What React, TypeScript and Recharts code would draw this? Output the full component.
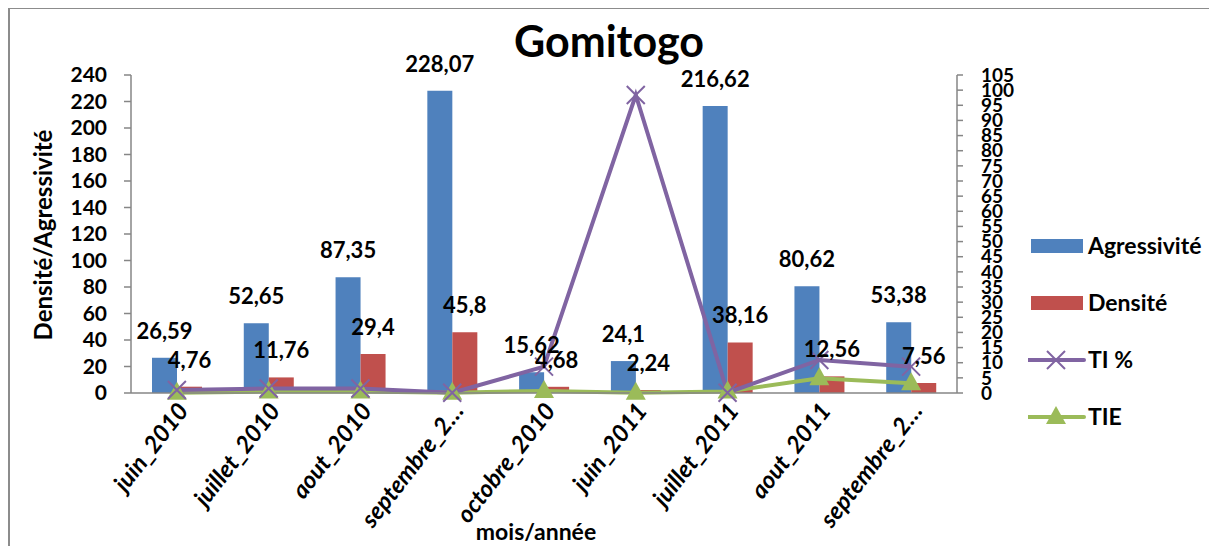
import React from 'react';
import { ComposedChart, Bar, Line, XAxis, YAxis, Legend, LabelList, Label } from 'recharts';

const categories = ['juin_2010', 'juillet_2010', 'aout_2010', 'septembre_2010', 'octobre_2010', 'juin_2011', 'juillet_2011', 'aout_2011', 'septembre_2011'];
const tickLabels = ['juin_2010', 'juillet_2010', 'aout_2010', 'septembre_2…', 'octobre_2010', 'juin_2011', 'juillet_2011', 'aout_2011', 'septembre_2…'];
const agressivite = [26.59, 52.65, 87.35, 228.07, 15.62, 24.1, 216.62, 80.62, 53.38];
const densite = [4.76, 11.76, 29.4, 45.8, 4.68, 2.24, 38.16, 12.56, 7.56];
const tiPercent = [1.0, 1.5, 1.5, 0.1, 8.7, 98.4, 0.1, 10.9, 8.7];
const tie = [0.1, 0.5, 0.5, 0.1, 0.7, 0.1, 0.5, 4.9, 3.2];
const leftTicks = [0, 20, 40, 60, 80, 100, 120, 140, 160, 180, 200, 220, 240];
const rightTicks = [0, 5, 10, 15, 20, 25, 30, 35, 40, 45, 50, 55, 60, 65, 70, 75, 80, 85, 90, 95, 100, 105];
const seriesNames = ['Agressivité', 'Densité', 'TI %', 'TIE'];
const title = 'Gomitogo';
const yTitle = 'Densité/Agressivité';
const xTitle = 'mois/année';

const data = categories.map((c, i) => ({
  cat: c,
  agr: agressivite[i],
  den: densite[i],
  ti: tiPercent[i],
  tie: tie[i],
}));

const FONT = 'Lato, "Open Sans", sans-serif';
const BLUE = '#4F81BD';
const RED = '#C0504D';
const PURPLE = '#8064A2';
const GREEN = '#9BBB59';
const AXIS = '#868686';

const fmt = (v: any) => String(v).replace('.', ',');

const XTick = (props: any) => {
  const { x, y, index } = props;
  return (
    <g transform={`translate(${x + 6},${y + 11})`}>
      <text transform="rotate(-52)" textAnchor="end" dy="0.35em" fontFamily={FONT} fontWeight={700} fontStyle="italic" fontSize={24} fill="#000">
        {tickLabels[index]}
      </text>
    </g>
  );
};

const XDot = (p: any) => {
  const { cx, cy, index } = p;
  if (cx == null || cy == null) return null;
  const s = 9;
  return (
    <path key={`xd-${index}`} d={`M${cx - s},${cy - s}L${cx + s},${cy + s}M${cx - s},${cy + s}L${cx + s},${cy - s}`} stroke={PURPLE} strokeWidth={2} fill="none" />
  );
};

const TriDot = (p: any) => {
  const { cx, cy, index } = p;
  if (cx == null || cy == null) return null;
  return <path key={`td-${index}`} d={`M${cx},${cy - 11}L${cx + 10},${cy + 7}L${cx - 10},${cy + 7}Z`} fill={GREEN} />;
};

const LegendContent = (props: any) => {
  const payload = [...(props.payload || [])].sort(
    (a: any, b: any) => seriesNames.indexOf(a.value) - seriesNames.indexOf(b.value)
  );
  return (
    <svg width={190} height={230}>
      {payload.map((e: any, i: number) => {
        const cy = 21 + i * 57;
        const name = e.value;
        let icon: any = null;
        if (name === 'Agressivité' || name === 'Densité') {
          icon = <rect x={3} y={cy - 7} width={52} height={14} fill={name === 'Agressivité' ? BLUE : RED} />;
        } else if (name === 'TI %') {
          icon = (
            <g>
              <line x1={0} y1={cy} x2={56} y2={cy} stroke={PURPLE} strokeWidth={4} strokeLinecap="round" />
              <XDot cx={28} cy={cy} index={99} />
            </g>
          );
        } else {
          icon = (
            <g>
              <line x1={0} y1={cy} x2={56} y2={cy} stroke={GREEN} strokeWidth={4} strokeLinecap="round" />
              <TriDot cx={28} cy={cy} index={98} />
            </g>
          );
        }
        return (
          <g key={name}>
            {icon}
            <text x={60} y={cy} dy="0.35em" fontFamily={FONT} fontWeight={700} fontSize={23} fill="#000">
              {name}
            </text>
          </g>
        );
      })}
    </svg>
  );
};

export default function App() {
  return (
    <div style={{ position: 'relative', width: 1201, height: 538, fontFamily: FONT }}>
      <div
        style={{
          position: 'absolute',
          left: 0,
          top: -1,
          width: 1209,
          height: 547,
          boxSizing: 'border-box',
          borderLeft: `2px solid #8c8c8c`,
          borderTop: `2px solid #8c8c8c`,
          pointerEvents: 'none',
        }}
      />
      <svg style={{ position: 'absolute', left: 0, top: 0 }} width={1201} height={80}>
        <text x={601} y={49} textAnchor="middle" fontFamily={FONT} fontWeight={700} fontSize={43} fill="#000">
          {title}
        </text>
      </svg>
      <ComposedChart
        width={1201}
        height={538}
        data={data}
        margin={{ top: 67, right: 192, bottom: 0, left: 43 }}
        barGap={0}
        style={{ position: 'absolute', left: 0, top: 0 }}
      >
        <XAxis
          dataKey="cat"
          xAxisId="x"
          height={153}
          interval={0}
          tick={<XTick />}
          tickLine={false}
          tickSize={0}
          axisLine={{ stroke: AXIS, strokeWidth: 1.5 }}
        >
          <Label
            content={(p: any) => {
              const vb = p.viewBox || {};
              return (
                <text x={vb.x + vb.width / 2 - 8} y={vb.y + 147} textAnchor="middle" fontFamily={FONT} fontWeight={700} fontSize={23} fill="#000">
                  {xTitle}
                </text>
              );
            }}
          />
        </XAxis>
        <YAxis
          yAxisId="left"
          width={80}
          domain={[0, 240]}
          ticks={leftTicks}
          interval={0}
          tickSize={7}
          tickMargin={17}
          axisLine={{ stroke: AXIS, strokeWidth: 1.5 }}
          tickLine={{ stroke: AXIS, strokeWidth: 1.5 }}
          tick={{ fill: '#000', fontSize: 21, fontWeight: 700, fontFamily: FONT }}
        >
          <Label
            content={(p: any) => {
              const vb = p.viewBox || {};
              const x = vb.x + 1;
              const y = vb.y + vb.height / 2 + 1;
              return (
                <text x={x} y={y} transform={`rotate(-90, ${x}, ${y})`} textAnchor="middle" fontFamily={FONT} fontWeight={700} fontSize={24} fill="#000">
                  {yTitle}
                </text>
              );
            }}
          />
        </YAxis>
        <YAxis
          yAxisId="right"
          orientation="right"
          width={60}
          domain={[0, 105]}
          ticks={rightTicks}
          interval={0}
          tickSize={6}
          tickMargin={18}
          axisLine={{ stroke: AXIS, strokeWidth: 1.5 }}
          tickLine={{ stroke: AXIS, strokeWidth: 1.5 }}
          tick={{ fill: '#000', fontSize: 19, fontWeight: 700, fontFamily: FONT }}
        />
        <Legend
          layout="horizontal"
          align="center"
          verticalAlign="middle"
          content={<LegendContent />}
          wrapperStyle={{ left: 1020, top: 217, width: 190, height: 230 }}
        />
        <Bar xAxisId="x" yAxisId="left" dataKey="agr" name="Agressivité" fill={BLUE} barSize={25} isAnimationActive={false}>
          <LabelList dataKey="agr" position="top" offset={19} formatter={fmt} fill="#000" fontSize={22} fontWeight={700} fontFamily={FONT} />
        </Bar>
        <Bar xAxisId="x" yAxisId="left" dataKey="den" name="Densité" fill={RED} barSize={25} isAnimationActive={false}>
          <LabelList dataKey="den" position="top" offset={19} formatter={fmt} fill="#000" fontSize={22} fontWeight={700} fontFamily={FONT} />
        </Bar>
        <Line xAxisId="x" yAxisId="right" type="linear" dataKey="tie" name="TIE" stroke={GREEN} strokeWidth={4} dot={<TriDot />} activeDot={false} isAnimationActive={false} />
        <Line xAxisId="x" yAxisId="right" type="linear" dataKey="ti" name="TI %" stroke={PURPLE} strokeWidth={4} dot={<XDot />} activeDot={false} isAnimationActive={false} />
      </ComposedChart>
    </div>
  );
}
